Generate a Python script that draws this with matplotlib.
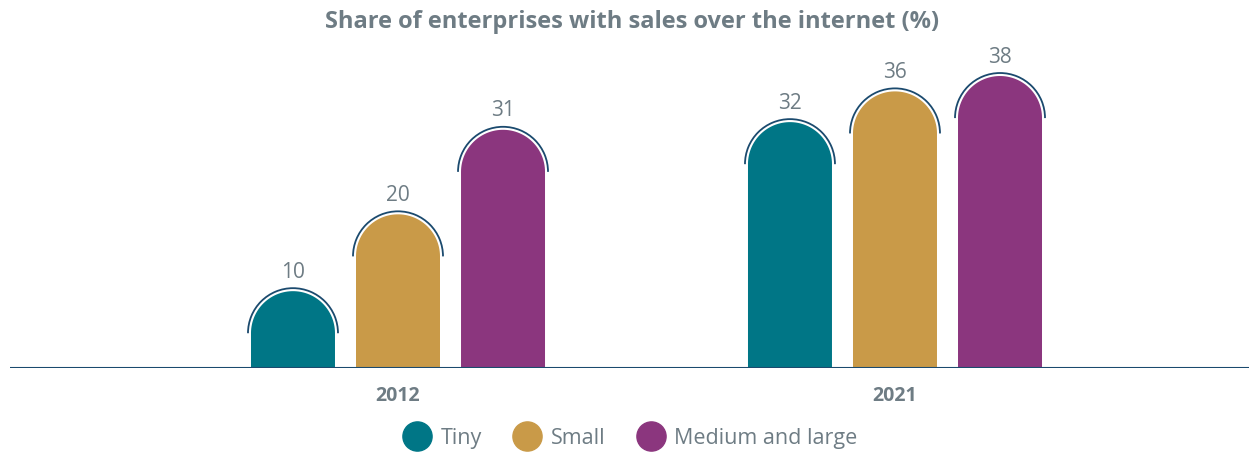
import numpy as np
import matplotlib.pyplot as plt
from matplotlib.path import Path
from matplotlib.patches import PathPatch, Arc
from matplotlib.lines import Line2D

years = ['2012', '2021']
sizes = ['Tiny', 'Small', 'Medium and large']
tiny = [10, 32]
small = [20, 36]
medium = [31, 38]

colors = ['#007686', '#C99A48', '#8B367E']
navy = '#1B4A6E'
gray = '#6E7C84'

plt.rcParams['font.family'] = ['Open Sans', 'DejaVu Sans']

fig = plt.figure(figsize=(12.49, 4.53), dpi=100)
ax = fig.add_axes([10 / 1249, 85 / 453, 1239 / 1249, 0.7124])
ax.set_xlim(-0.7807, 1.7123)
ax.set_ylim(0, 42)
ax.axis('off')
ax.axhline(0, color=navy, lw=1.5)

width = 0.169
offset = 0.2113

# pixels per data unit, used to keep the rounded tops circular
fig.canvas.draw()
bb = ax.get_window_extent()
px_x = bb.width / (ax.get_xlim()[1] - ax.get_xlim()[0])
px_y = bb.height / (ax.get_ylim()[1] - ax.get_ylim()[0])
ratio = px_x / px_y


def rounded_bar(x, h, color):
    rx = width / 2
    ry = rx * ratio
    t = np.linspace(0, np.pi, 60)
    xs = [x - rx, x - rx] + list(x - rx * np.cos(t)) + [x + rx, x - rx]
    ys = [0, h - ry] + list(h - ry + ry * np.sin(t)) + [0, 0]
    verts = list(zip(xs, ys))
    codes = [Path.MOVETO] + [Path.LINETO] * (len(verts) - 2) + [Path.CLOSEPOLY]
    ax.add_patch(PathPatch(Path(verts, codes), facecolor=color, edgecolor='none'))
    # outline arc around the top
    arx = rx * 45 / 42
    ax.add_patch(Arc((x, h - ry), 2 * arx, 2 * arx * ratio, theta1=-6, theta2=186,
                     color=navy, lw=1.3))
    ax.text(x, h + 1.1, str(h), ha='center', va='bottom', fontsize=15,
            fontweight='medium', color=gray)


for i, vals in enumerate([tiny, small, medium]):
    for g, v in enumerate(vals):
        rounded_bar(g + (i - 1) * offset, v, colors[i])

for g, yr in enumerate(years):
    ax.text(g, -2.3, yr, ha='center', va='top', fontsize=14, fontweight='bold', color=gray)

fig.text(0.506, 0.952, 'Share of enterprises with sales over the internet (%)',
         ha='center', va='center', fontsize=17, fontweight='bold', color=gray)

handles = [Line2D([], [], marker='o', ls='none', markersize=21, color=c) for c in colors]
leg = fig.legend(handles, sizes, loc='center', bbox_to_anchor=(0.505, 0.033), ncol=3,
                 frameon=False, fontsize=15.5, handletextpad=0.5, columnspacing=1.5,
                 handlelength=1.2)
for t in leg.get_texts():
    t.set_color(gray)

fig.savefig('out.png', dpi=100)
